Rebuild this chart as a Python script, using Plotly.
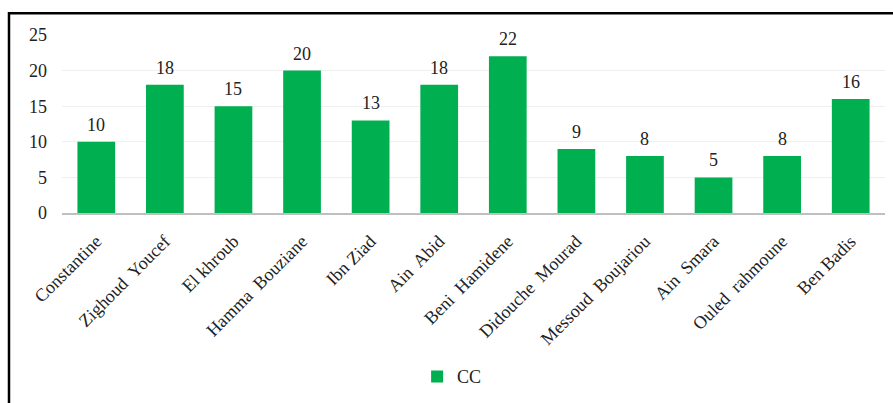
import plotly.graph_objects as go

# Number of CC per commune
communes = ["Constantine", "Zighoud  Youcef", "El khroub", "Hamma  Bouziane", "Ibn Ziad",
            "Ain  Abid", "Beni  Hamidene", "Didouche  Mourad", "Messoud  Boujariou",
            "Ain  Smara", "Ouled  rahmoune", "Ben Badis"]
cc_counts = [10, 18, 15, 20, 13, 18, 22, 9, 8, 5, 8, 16]
y_ticks = [0, 5, 10, 15, 20, 25]

SERIF = "Liberation Serif, Times New Roman, serif"
GREEN = "#00B050"
FS = 18

fig = go.Figure()
fig.add_trace(go.Bar(
    x=communes, y=cc_counts, name="CC",
    marker=dict(color=GREEN, line=dict(width=0)),
    showlegend=True,
))

# value labels above each bar
for name, val in zip(communes, cc_counts):
    fig.add_annotation(x=name, y=val, text=str(val), showarrow=False,
                       yanchor="bottom", yshift=5,
                       font=dict(family=SERIF, size=FS, color="#222"))

# outer frame
fig.add_shape(type="rect", xref="paper", yref="paper",
              x0=-0.0644, x1=1.2, y0=-1.2, y1=1.122,
              line=dict(color="black", width=2.5), fillcolor="rgba(0,0,0,0)")

fig.update_layout(
    width=893, height=403,
    margin=dict(l=62, r=8, t=35, b=188),
    paper_bgcolor="white", plot_bgcolor="white",
    bargap=0.45,
    font=dict(family=SERIF, size=FS, color="#222"),
    xaxis=dict(tickangle=-45, showgrid=False, showline=True, linecolor="#BFBFBF",
               linewidth=1.5, ticks="", ticklabelstandoff=9,
               tickfont=dict(family=SERIF, size=FS, color="#222")),
    yaxis=dict(range=[0, 25], tickvals=y_ticks, showgrid=True, gridcolor="#EFEFEF",
               gridwidth=1, zeroline=False, showline=False, ticks="",
               ticklabelstandoff=14,
               tickfont=dict(family=SERIF, size=FS, color="#222")),
    legend=dict(orientation="h", x=0.474, xanchor="center", y=-0.92, yanchor="middle",
                font=dict(family=SERIF, size=FS, color="#222"), itemwidth=30),
)

fig.write_html("out.html")
